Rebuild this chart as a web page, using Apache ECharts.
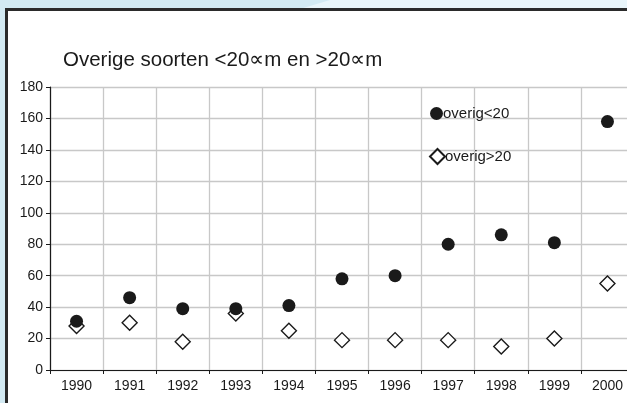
<!DOCTYPE html>
<html><head><meta charset="utf-8">
<script src="https://cdn.jsdelivr.net/npm/echarts@6/dist/echarts.min.js"></script>
<style>html,body{margin:0;padding:0;background:#d3eaf3;overflow:hidden;}#c{width:645px;height:403px;}</style>
</head><body><div id="c"></div>
<script>
const years = ['1990','1991','1992','1993','1994','1995','1996','1997','1998','1999','2000'];
const overigKlein = [31, 46, 39, 39, 41, 58, 60, 80, 86, 81, 158];
const overigGroot = [28, 30, 18, 36, 25, 19, 19, 19, 15, 20, 55];
const seriesNames = ['overig<20', 'overig>20'];
const titleText = 'Overige soorten <20\u221Dm en >20\u221Dm';

const chart = echarts.init(document.getElementById('c'));
const font = 'Liberation Sans, Arial, sans-serif';
chart.setOption({
  backgroundColor: '#d3eaf3',
  animation: false,
  graphic: [
    {type:'polygon', z:-10, shape:{points:[[330,0],[645,0],[645,9],[300,9]]}, style:{fill:'#e9f5fa'}},
    {type:'rect', z:-5, shape:{x:6.5, y:9.5, width:660, height:420}, style:{fill:'#fff', stroke:'#2b2b2b', lineWidth:3}}
  ],
  title: {text: titleText, left: 58, top: 45, textStyle:{fontFamily: font, fontSize: 20.5, fontWeight:'normal', color:'#1a1a1a'}},
  grid: {left: 50, top: 87, width: 584, height: 283, containLabel: false},
  legend: [
    {data:[{name: seriesNames[0], icon:'circle'}], left: 425, top: 101, itemWidth: 13, itemHeight: 13, itemGap: 0,
     textStyle:{fontFamily: font, fontSize: 15, color:'#1a1a1a', padding:[0,0,0,-5]}},
    {data:[{name: seriesNames[1], icon:'diamond'}], left: 424, top: 143, itemWidth: 15, itemHeight: 15, itemGap: 0,
     textStyle:{fontFamily: font, fontSize: 15, color:'#1a1a1a', padding:[0,0,0,-5]}}
  ],
  xAxis: {
    type:'category', data: years, boundaryGap: true,
    axisLine:{lineStyle:{color:'#1a1a1a', width:1.2}},
    axisTick:{show:true, inside:false, length:4, lineStyle:{color:'#1a1a1a'}},
    axisLabel:{fontFamily: font, fontSize: 14, color:'#1a1a1a', margin: 9},
    splitLine:{show:true, lineStyle:{color:'#c8c8c8', width:1.3}}
  },
  yAxis: {
    type:'value', min:0, max:180, interval:20,
    axisLine:{show:true, lineStyle:{color:'#1a1a1a', width:1.2}},
    axisTick:{show:true, length:4, lineStyle:{color:'#1a1a1a'}},
    axisLabel:{fontFamily: font, fontSize: 14, color:'#1a1a1a', margin: 7},
    splitLine:{show:true, lineStyle:{color:'#c8c8c8', width:1.3}}
  },
  series: [
    {name: seriesNames[1], type:'scatter', data: overigGroot, symbol:'diamond', symbolSize:[15,15], z:2,
     itemStyle:{color:'#fff', borderColor:'#1a1a1a', borderWidth:1.4, opacity:1}},
    {name: seriesNames[0], type:'scatter', data: overigKlein, symbol:'circle', symbolSize:13, z:3,
     itemStyle:{color:'#1a1a1a', opacity:1}}
  ]
});
</script></body></html>
